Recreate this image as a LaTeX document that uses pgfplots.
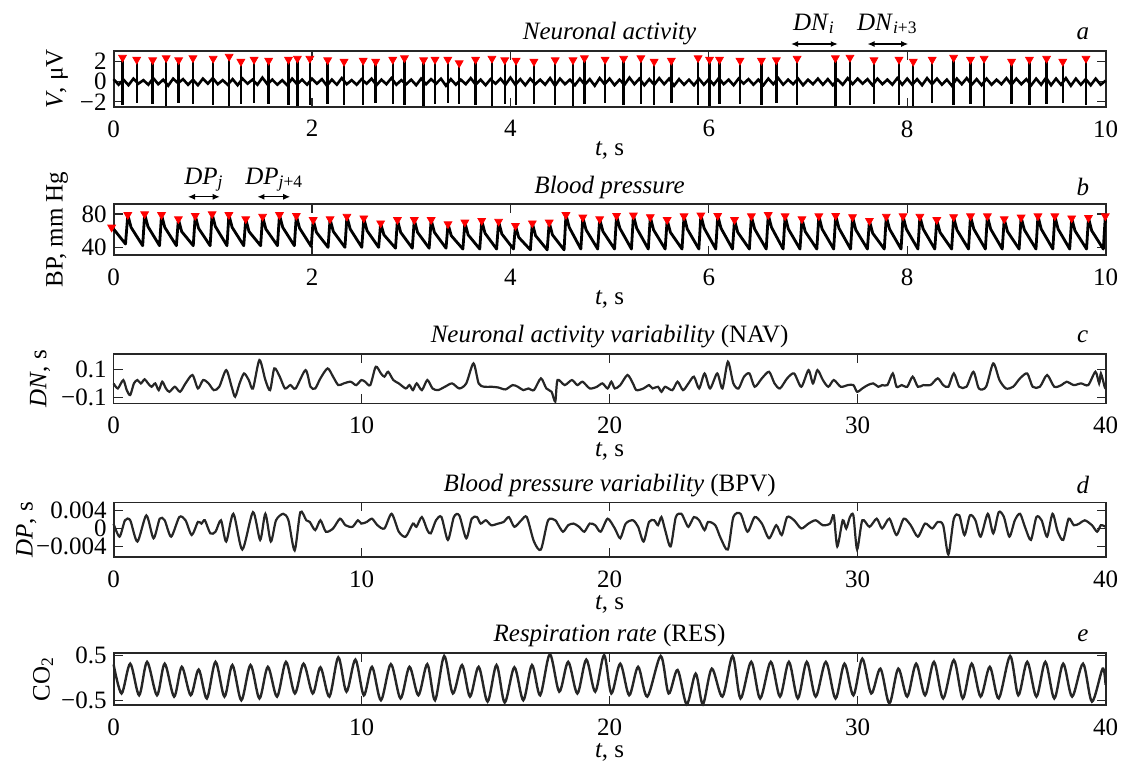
\documentclass[border=0pt]{standalone}
\usepackage{fontspec}
\setmainfont{Liberation Serif}
\usepackage{pgfplots}
\pgfplotsset{compat=1.18}
\usepackage{pgfplotstable}
\usetikzlibrary{arrows.meta}

\newcommand\fs{\fontsize{12.5}{14.5}\selectfont}

% spike times (s), upward and downward amplitudes (uV)
\pgfplotstableread{
t up dn
0.090 2.4 -2.3
0.233 2.2 -2.1
0.394 2.15 -2.2
0.530 2.35 -2.4
0.656 2.15 -2.1
0.800 2.35 -2.2
1.004 2.3 -2.3
1.165 2.5 -2.4
1.283 2.0 -2.2
1.416 2.2 -2.1
1.563 2.1 -2.2
1.763 2.2 -2.3
1.853 2.3 -2.4
1.978 2.3 -2.3
2.158 2.15 -2.2
2.323 2.0 -2.3
2.516 2.1 -2.3
2.642 2.0 -2.1
2.814 2.2 -2.2
2.932 2.35 -2.3
3.125 2.15 -2.4
3.240 2.2 -2.2
3.369 2.2 -2.1
3.484 1.85 -2.2
3.649 2.2 -2.3
3.814 2.3 -2.4
3.943 2.15 -2.2
4.057 2.1 -2.3
4.237 2.0 -2.2
4.452 2.15 -2.3
4.631 2.15 -2.4
4.746 2.35 -2.2
4.955 2.2 -2.1
5.142 2.3 -2.3
5.315 2.35 -2.2
5.449 2.0 -2.3
5.622 2.1 -2.1
5.892 2.35 -2.3
6.007 2.2 -2.4
6.108 2.2 -2.2
6.314 2.1 -2.2
6.530 2.1 -2.3
6.681 2.15 -2.1
6.890 2.3 -2.3
7.276 2.35 -2.4
7.423 2.4 -2.3
7.665 2.15 -2.2
7.917 2.2 -2.3
8.061 2.0 -2.4
8.252 2.2 -2.1
8.468 2.4 -2.3
8.638 2.2 -2.2
8.775 2.3 -2.4
9.052 2.0 -2.2
9.232 2.2 -2.3
9.405 2.3 -2.2
9.568 2.0 -2.1
9.802 2.3 -2.3
}\spikes

\tikzset{arr/.style={{Latex[length=3.5pt,width=3pt]}-{Latex[length=3.5pt,width=3pt]}, line width=0.6pt}}

\pgfplotsset{
  panel/.style={
    scale only axis, width=496pt, clip=false,
    axis line style={line width=0.9pt, black!85},
    every tick/.style={black!85, line width=0.6pt},
    major tick length=4.5pt,
    tick align=inside,
    tick label style={font=\fs},
    label style={font=\fs},
    title style={font=\fs, at={(axis description cs:0.5,1)}, anchor=center, yshift=2.5pt},
    /pgf/number format/assume math mode=true,
    xticklabel style={inner ysep=0.5pt, yshift=-6.1pt},
    yticklabel style={inner ysep=0pt},
    xlabel style={at={(axis description cs:0.5,0)}, anchor=center, yshift=-22pt, inner ysep=0.5pt},
    xlabel={\textit{t}, s},
    ylabel style={anchor=center},
  },
  lowlabel/.style={xlabel style={yshift=-1.8pt}},
}

\begin{document}
\begin{tikzpicture}
\path[use as bounding box] (0,0) rectangle (561.5pt,-383.5pt);

% ---------- a: neuronal activity
\begin{axis}[panel, at={(56.8pt,-25.5pt)}, anchor=north west, height=27.9pt,
  xmin=0, xmax=10, ymin=-2.5, ymax=3.05,
  xtick={0,2,4,6,8,10}, ytick={-2,0,2}, yticklabels={−2,0,2},
  ylabel={\textit{V}, μV}, ylabel style={at={(axis description cs:-0.057,0.5)}},
  title={\textit{Neuronal activity}}]
\addplot[black, line width=1.3pt] coordinates {
(0.00,0.25)(0.05,-0.3)(0.10,0.2)(0.15,-0.35)(0.20,0.3)(0.25,-0.2)(0.30,0.15)(0.35,-0.3)(0.40,0.35)(0.45,-0.25)(0.50,0.2)(0.55,-0.4)(0.60,0.3)(0.65,-0.15)(0.70,0.25)(0.75,-0.3)(0.80,0.2)(0.85,-0.35)(0.90,0.3)(0.95,-0.2)
(1.00,0.35)(1.05,-0.25)(1.10,0.15)(1.15,-0.3)(1.20,0.25)(1.25,-0.35)(1.30,0.3)(1.35,-0.2)(1.40,0.2)(1.45,-0.3)(1.50,0.4)(1.55,-0.25)(1.60,0.2)(1.65,-0.3)(1.70,0.15)(1.75,-0.35)(1.80,0.3)(1.85,-0.25)(1.90,0.2)(1.95,-0.3)
(2.00,0.3)(2.05,-0.2)(2.10,0.25)(2.15,-0.4)(2.20,0.2)(2.25,-0.3)(2.30,0.35)(2.35,-0.25)(2.40,0.15)(2.45,-0.3)(2.50,0.25)(2.55,-0.2)(2.60,0.3)(2.65,-0.35)(2.70,0.2)(2.75,-0.25)(2.80,0.35)(2.85,-0.3)(2.90,0.15)(2.95,-0.25)
(3.00,0.2)(3.05,-0.35)(3.10,0.3)(3.15,-0.25)(3.20,0.25)(3.25,-0.2)(3.30,0.3)(3.35,-0.4)(3.40,0.25)(3.45,-0.3)(3.50,0.2)(3.55,-0.25)(3.60,0.35)(3.65,-0.3)(3.70,0.2)(3.75,-0.35)(3.80,0.25)(3.85,-0.2)(3.90,0.3)(3.95,-0.3)
(4.00,0.4)(4.05,-0.3)(4.10,0.25)(4.15,-0.35)(4.20,0.3)(4.25,-0.25)(4.30,0.2)(4.35,-0.3)(4.40,0.35)(4.45,-0.4)(4.50,0.3)(4.55,-0.25)(4.60,0.2)(4.65,-0.35)(4.70,0.3)(4.75,-0.3)(4.80,0.25)(4.85,-0.4)(4.90,0.35)(4.95,-0.25)
(5.00,0.3)(5.05,-0.35)(5.10,0.2)(5.15,-0.3)(5.20,0.4)(5.25,-0.25)(5.30,0.3)(5.35,-0.35)(5.40,0.25)(5.45,-0.3)(5.50,0.35)(5.55,-0.25)(5.60,0.3)(5.65,-0.4)(5.70,0.25)(5.75,-0.3)(5.80,0.2)(5.85,-0.35)(5.90,0.3)(5.95,-0.3)
(6.00,0.25)(6.05,-0.3)(6.10,0.35)(6.15,-0.25)(6.20,0.2)(6.25,-0.35)(6.30,0.3)(6.35,-0.2)(6.40,0.25)(6.45,-0.3)(6.50,0.2)(6.55,-0.35)(6.60,0.3)(6.65,-0.25)(6.70,0.35)(6.75,-0.3)(6.80,0.2)(6.85,-0.25)(6.90,0.3)(6.95,-0.35)
(7.00,0.2)(7.05,-0.25)(7.10,0.3)(7.15,-0.3)(7.20,0.25)(7.25,-0.35)(7.30,0.2)(7.35,-0.3)(7.40,0.35)(7.45,-0.25)(7.50,0.3)(7.55,-0.2)(7.60,0.25)(7.65,-0.35)(7.70,0.3)(7.75,-0.25)(7.80,0.2)(7.85,-0.3)(7.90,0.35)(7.95,-0.3)
(8.00,0.3)(8.05,-0.3)(8.10,0.25)(8.15,-0.35)(8.20,0.35)(8.25,-0.25)(8.30,0.3)(8.35,-0.3)(8.40,0.2)(8.45,-0.4)(8.50,0.3)(8.55,-0.25)(8.60,0.35)(8.65,-0.3)(8.70,0.25)(8.75,-0.35)(8.80,0.3)(8.85,-0.3)(8.90,0.2)(8.95,-0.25)
(9.00,0.35)(9.05,-0.3)(9.10,0.3)(9.15,-0.25)(9.20,0.25)(9.25,-0.35)(9.30,0.3)(9.35,-0.3)(9.40,0.4)(9.45,-0.35)(9.50,0.3)(9.55,-0.3)(9.60,0.35)(9.65,-0.4)(9.70,0.3)(9.75,-0.3)(9.80,0.25)(9.85,-0.35)(9.90,0.3)(9.95,-0.3)(10.00,0.1)
};
\addplot[ycomb, black, line width=1.2pt, no markers] table[x=t, y=up] {\spikes};
\addplot[ycomb, black, line width=1.2pt, no markers] table[x=t, y=dn] {\spikes};
\addplot[only marks, red, mark=triangle*, mark size=2.2pt, mark options={rotate=180}] table[x=t, y=up] {\spikes};
\draw[arr] ([yshift=3.5pt]axis cs:6.83,3.05) -- ([yshift=3.5pt]axis cs:7.30,3.05);
\draw[arr] ([yshift=3.5pt]axis cs:7.60,3.05) -- ([yshift=3.5pt]axis cs:8.01,3.05);
\node[font=\fs, anchor=base] at ([yshift=10.5pt]axis cs:7.06,3.05) {\textit{DN}\textsubscript{\textit{i}}};
\node[font=\fs, anchor=base] at ([yshift=10.5pt]axis cs:7.80,3.05) {\textit{DN}\textsubscript{\textit{i}+3}};
\node[font=\fs] at ([yshift=8.5pt]rel axis cs:0.977,1) {\textit{a}};
\end{axis}

% ---------- b: blood pressure
\begin{axis}[panel, at={(56.8pt,-102pt)}, anchor=north west, height=25.5pt,
  xmin=0, xmax=10, ymin=30.8, ymax=92,
  xtick={0,2,4,6,8,10}, ytick={40,80}, yticklabels={40,80},
  ylabel={BP, mm Hg}, ylabel style={at={(axis description cs:-0.057,0.5)}},
  title={\textit{Blood pressure}}]
\addplot[black, line width=1.4pt, line join=round] coordinates {
(0.000,62)(0.120,44)
(0.143,79)(0.176,64)(0.293,42)(0.313,80)(0.346,65)(0.463,42)(0.483,79)(0.516,64)(0.633,42)
(0.653,74)(0.686,59)(0.803,42)(0.823,78)(0.856,63)(0.973,42)(0.993,80)(1.026,65)(1.143,42)
(1.162,79)(1.195,64)(1.312,42)(1.332,74)(1.365,59)(1.482,42)(1.502,77)(1.535,62)(1.652,42)
(1.672,79)(1.705,64)(1.822,42)(1.842,78)(1.875,63)(1.992,41)(2.012,73)(2.045,58)(2.162,40)
(2.182,74)(2.215,59)(2.332,40)(2.352,77)(2.385,62)(2.502,40)(2.522,75)(2.555,60)(2.672,40)
(2.692,69)(2.725,55)(2.842,39)(2.861,73)(2.894,58)(3.011,39)(3.031,73)(3.064,58)(3.181,39)
(3.201,73)(3.234,58)(3.351,39)(3.371,68)(3.404,54)(3.521,38)(3.541,70)(3.574,55)(3.691,38)
(3.711,72)(3.744,57)(3.861,38)(3.881,71)(3.914,56)(4.031,38)(4.051,66)(4.084,52)(4.201,37)
(4.221,69)(4.254,54)(4.371,37)(4.391,70)(4.424,55)(4.541,37)(4.560,79)(4.593,64)(4.710,38)
(4.730,76)(4.763,61)(4.880,38)(4.900,74)(4.933,59)(5.050,38)(5.070,78)(5.103,63)(5.220,38)
(5.240,78.5)(5.273,63)(5.390,38)(5.410,76.5)(5.443,61)(5.560,38)(5.580,73)(5.613,58)(5.730,38)
(5.750,77.5)(5.783,62)(5.900,38)(5.920,78.5)(5.953,63)(6.070,38)(6.090,78)(6.123,63)(6.239,38)
(6.259,73)(6.292,58)(6.409,38)(6.429,77.5)(6.462,62)(6.579,38)(6.599,79)(6.632,64)(6.749,38)
(6.769,77.5)(6.802,62)(6.919,38)(6.939,74)(6.972,59)(7.089,38)(7.109,77.5)(7.142,62)(7.259,38)
(7.279,78)(7.312,63)(7.429,38)(7.449,76.5)(7.482,61)(7.599,38)(7.619,72)(7.652,57)(7.769,38)
(7.789,77)(7.822,62)(7.938,38)(7.958,77.5)(7.991,62)(8.108,38)(8.128,77)(8.161,62)(8.278,38)
(8.298,73)(8.331,58)(8.448,38)(8.468,76.5)(8.501,61)(8.618,38)(8.638,77.5)(8.671,62)(8.788,38)
(8.808,77.5)(8.841,62)(8.958,38)(8.978,74)(9.011,59)(9.128,38)(9.148,76)(9.181,61)(9.298,38)
(9.318,77.5)(9.351,62)(9.468,38)(9.488,77.5)(9.521,62)(9.638,38)(9.658,75)(9.691,60)(9.808,38)
(9.827,75.5)(9.860,60)(9.977,38)(9.997,77.5)(10.0,70)
};
\addplot[only marks, red, mark=triangle*, mark size=2.2pt, mark options={rotate=180}] coordinates {
(-0.02,64)(0.143,79)(0.313,80)(0.483,79)(0.653,74)(0.823,78)(0.993,80)(1.162,79)(1.332,74)(1.502,77)
(1.672,79)(1.842,78)(2.012,73)(2.182,74)(2.352,77)(2.522,75)(2.692,69)(2.861,73)(3.031,73)(3.201,73)
(3.371,68)(3.541,70)(3.711,72)(3.881,71)(4.051,66)(4.221,69)(4.391,70)(4.560,79)(4.730,76)(4.900,74)
(5.070,78)(5.240,78.5)(5.410,76.5)(5.580,73)(5.750,77.5)(5.920,78.5)(6.090,78)(6.259,73)(6.429,77.5)
(6.599,79)(6.769,77.5)(6.939,74)(7.109,77.5)(7.279,78)(7.449,76.5)(7.619,72)(7.789,77)(7.958,77.5)
(8.128,77)(8.298,73)(8.468,76.5)(8.638,77.5)(8.808,77.5)(8.978,74)(9.148,76)(9.318,77.5)(9.488,77.5)
(9.658,75)(9.827,75.5)(9.997,77.5)
};
\draw[arr] ([yshift=3.6pt]axis cs:0.75,92) -- ([yshift=3.6pt]axis cs:1.07,92);
\draw[arr] ([yshift=3.6pt]axis cs:1.45,92) -- ([yshift=3.6pt]axis cs:1.78,92);
\node[font=\fs, anchor=base] at ([yshift=10pt]axis cs:0.91,92) {\textit{DP}\textsubscript{\textit{j}}};
\node[font=\fs, anchor=base] at ([yshift=10pt]axis cs:1.62,92) {\textit{DP}\textsubscript{\textit{j}+4}};
\node[font=\fs] at ([yshift=8.5pt]rel axis cs:0.977,1) {\textit{b}};
\end{axis}

% ---------- c: NAV
\begin{axis}[panel, lowlabel, at={(56.8pt,-177pt)}, anchor=north west, height=24.7pt,
  xmin=0, xmax=40, ymin=-0.143, ymax=0.21,
  xtick={0,10,20,30,40}, ytick={-0.1,0.1}, yticklabels={−0.1,0.1},
  ylabel={\textit{DN}, s}, ylabel style={at={(axis description cs:-0.074,0.5)}},
  title={\textit{Neuronal activity variability} (NAV)}]
\addplot[black!85, line width=1.1pt, smooth, tension=0.45] coordinates {
(0,0.0)(0.17,-0.036)(0.39,0.024)(0.53,-0.048)(0.67,-0.083)(0.82,0.0)(0.96,0.024)(1.10,0.0)(1.25,0.029)
(1.39,0.0)(1.53,-0.024)(1.68,0.0)(1.82,-0.048)(1.96,0.012)(2.11,-0.036)(2.25,-0.06)(2.47,-0.024)
(2.68,-0.06)(2.90,0.0)(3.18,0.06)(3.40,-0.036)(3.61,0.024)(3.83,0.0)(4.04,-0.048)(4.26,-0.024)
(4.54,0.095)(4.76,-0.024)(4.90,-0.095)(5.08,0.0)(5.26,0.071)(5.45,0.024)(5.62,-0.036)(5.88,0.167)
(6.12,0.024)(6.31,-0.048)(6.48,0.107)(6.70,0.048)(6.91,-0.036)(7.13,-0.012)(7.34,-0.036)(7.74,0.095)
(7.94,-0.024)(8.13,-0.036)(8.34,0.036)(8.63,0.107)(8.85,0.048)(9.06,-0.012)(9.28,0.0)(9.56,0.012)
(9.78,-0.012)(9.99,0.024)(10.14,0.012)(10.35,-0.012)(10.57,0.119)(10.78,0.071)(10.92,0.048)
(11.07,0.083)(11.28,0.024)(11.50,0.0)(11.78,-0.036)(11.93,-0.012)(12.07,-0.048)(12.22,0.0)
(12.43,-0.048)(12.65,0.024)(12.86,-0.036)(13.08,-0.048)(13.36,-0.024)(13.65,0.0)(13.94,-0.036)
(14.22,0.0)(14.51,0.143)(14.72,0.0)(14.94,-0.024)(15.23,-0.024)(15.51,-0.029)(15.80,-0.043)
(16.09,-0.012)(16.30,-0.024)(16.52,-0.048)(16.73,-0.036)(16.95,-0.048)(17.23,0.036)(17.45,-0.036)
(17.66,-0.06)(17.81,-0.13)(17.90,0.024)(18.19,-0.012)(18.48,0.024)(18.70,-0.012)(18.91,0.012)
(19.20,-0.036)(19.49,-0.024)(19.71,0.0)(19.92,-0.036)(20.07,0.012)(20.21,-0.036)(20.43,-0.012)
(20.72,0.06)(20.94,0.0)(21.08,-0.048)(21.37,-0.036)(21.59,-0.012)(21.73,-0.036)(21.95,-0.024)
(22.09,-0.06)(22.24,-0.024)(22.53,-0.048)(22.74,0.012)(22.96,-0.048)(23.18,0.0)(23.40,0.048)
(23.61,-0.036)(23.83,0.071)(24.05,-0.036)(24.34,0.071)(24.55,-0.036)(24.77,0.155)(24.99,0.0)
(25.20,-0.036)(25.42,0.048)(25.64,0.071)(25.85,-0.024)(26.14,0.036)(26.43,0.083)(26.65,0.0)
(26.87,-0.036)(27.16,0.036)(27.44,0.071)(27.73,-0.024)(28.02,0.095)(28.20,0.0)(28.38,0.095)
(28.60,0.024)(28.82,-0.024)(29.04,0.024)(29.32,-0.024)(29.61,-0.012)(29.83,-0.012)(29.98,-0.06)
(30.19,-0.036)(30.41,-0.012)(30.63,0.0)(30.84,-0.024)(30.99,-0.012)(31.20,-0.012)(31.42,0.071)
(31.57,-0.024)(31.78,-0.012)(32.00,-0.024)(32.22,0.048)(32.43,-0.024)(32.65,-0.012)(32.94,-0.012)
(33.23,0.036)(33.45,-0.012)(33.66,-0.024)(33.88,0.071)(34.10,-0.024)(34.39,-0.024)(34.67,0.083)
(34.89,-0.036)(35.18,-0.024)(35.47,0.143)(35.72,0.024)(35.98,-0.036)(36.27,-0.024)(36.55,0.036)
(36.84,0.071)(37.06,-0.024)(37.35,-0.024)(37.64,0.06)(37.93,-0.024)(38.22,-0.012)(38.43,0.012)
(38.72,-0.012)(39.01,0.0)(39.30,-0.012)(39.59,0.083)(39.74,0.0)(39.81,0.071)(39.96,-0.024)(40,-0.036)
};
\node[font=\fs] at ([yshift=8.5pt]rel axis cs:0.977,1) {\textit{c}};
\end{axis}

% ---------- d: BPV (values in units of 0.001 s)
\begin{axis}[panel, lowlabel, at={(56.8pt,-251.2pt)}, anchor=north west, height=27.2pt,
  xmin=0, xmax=40, ymin=-6.2, ymax=5.7,
  xtick={0,10,20,30,40}, ytick={-4,0,4}, yticklabels={−0.004,0,0.004},
  ylabel={\textit{DP}, s}, ylabel style={at={(axis description cs:-0.088,0.5)}},
  title={\textit{Blood pressure variability} (BPV)}]
\addplot[black!85, line width=1.1pt, smooth, tension=0.45] coordinates {
(0,1.0)(0.24,-1.79)(0.46,1.79)(0.67,1.79)(0.96,-2.86)(1.32,2.86)(1.61,-2.14)(1.86,2.14)(2.06,1.79)
(2.32,-1.79)(2.65,2.5)(2.90,1.79)(3.15,-1.43)(3.40,1.43)(3.54,1.07)(3.68,1.79)(3.90,-1.07)(4.11,-0.71)
(4.33,1.79)(4.54,-2.86)(4.83,3.21)(5.19,-4.6)(5.62,3.57)(5.91,-2.5)(6.12,3.21)(6.34,-2.86)(6.55,1.79)
(6.84,3.21)(7.05,1.79)(7.30,-4.8)(7.53,3.57)(7.77,1.79)(7.91,1.43)(8.13,-0.36)(8.34,1.79)(8.56,-0.71)
(8.85,0)(9.13,2.14)(9.35,0.71)(9.63,0.36)(9.85,1.79)(9.99,1.07)(10.21,1.43)(10.42,2.14)(10.64,0.71)
(10.92,0)(11.21,3.21)(11.50,-0.71)(11.78,-1.79)(12.07,1.07)(12.21,0.36)(12.43,2.5)(12.65,-0.36)
(12.79,-1.07)(13.0,1.79)(13.22,2.5)(13.48,-2.5)(13.72,2.5)(13.94,2.86)(14.22,-2.14)(14.44,2.14)
(14.65,2.5)(14.80,1.07)(15.01,1.79)(15.23,0.71)(15.51,1.07)(15.73,1.43)(15.94,2.5)(16.16,0.36)
(16.44,1.79)(16.66,2.5)(16.95,-2.86)(17.23,-4.6)(17.52,1.79)(17.81,1.79)
(17.90,1.07)(18.12,-0.71)(18.33,0.71)(18.55,1.07)(18.77,0.36)(18.98,-0.71)(19.20,1.07)(19.42,0.71)
(19.64,-0.71)(19.92,2.14)(20.21,0)(20.43,-2.14)(20.65,1.07)(20.94,1.79)(21.15,0.36)(21.37,-2.86)
(21.59,1.43)(21.80,1.79)(21.95,0.71)(22.09,2.5)(22.24,-0.36)(22.46,-3.93)(22.67,2.5)(22.89,3.21)
(23.03,1.79)(23.18,0.36)(23.40,2.5)(23.61,1.79)(23.83,-0.36)(23.97,1.43)(24.26,0.71)(24.48,-2.14)
(24.77,-4.6)(24.99,2.5)(25.28,3.21)(25.56,-0.71)(25.85,2.5)(26.14,1.07)(26.43,-2.14)(26.72,0.71)
(26.94,-1.43)(27.16,2.5)(27.44,1.79)(27.73,0)(28.02,1.07)(28.31,1.79)(28.60,0.71)(28.89,1.07)
(29.04,2.86)(29.18,-3.93)(29.40,1.79)(29.54,0)(29.69,2.5)(29.83,2.86)(29.98,-4.6)(30.19,1.79)
(30.48,0.36)(30.77,2.14)(30.99,0)(31.28,2.14)(31.57,-1.43)(31.86,2.14)(32.14,0.71)(32.43,-1.79)
(32.72,1.07)(33.01,0)(33.23,1.43)(33.45,0.71)(33.66,-5.7)(33.88,2.14)(34.10,2.86)(34.31,-1.43)
(34.53,2.86)(34.75,1.79)(34.96,-1.79)(35.25,3.21)(35.47,-1.07)(35.69,3.57)(35.90,2.5)(36.12,-1.79)
(36.34,1.79)(36.55,3.21)(36.77,0)(36.99,-2.5)(37.21,2.5)(37.42,1.79)(37.64,-1.79)(37.86,3.21)
(38.07,-0.71)(38.29,-2.5)(38.51,2.14)(38.72,0.71)(38.94,1.07)(39.16,1.79)(39.45,0.71)(39.66,-0.71)
(39.81,0.71)(40,0.36)
};
\node[font=\fs] at ([yshift=8.5pt]rel axis cs:0.977,1) {\textit{d}};
\end{axis}

% ---------- e: respiration
\begin{axis}[panel, lowlabel, at={(56.8pt,-326.4pt)}, anchor=north west, height=26.2pt,
  xmin=0, xmax=40, ymin=-0.6, ymax=0.56,
  xtick={0,10,20,30,40}, ytick={-0.5,0.5}, yticklabels={−0.5,0.5},
  ylabel={CO\textsubscript{2}}, ylabel style={at={(axis description cs:-0.071,0.5)}},
  title={\textit{Respiration rate} (RES)}]
\addplot[black!85, line width=1.2pt, smooth, tension=0.5] coordinates {
(0,0.3)(0.32,-0.34)(0.67,0.32)(1.03,-0.38)(1.35,0.36)(1.75,-0.38)(2.06,0.32)(2.44,-0.41)(2.75,0.25)
(3.11,-0.38)(3.43,0.19)(3.76,-0.45)(4.11,0.36)(4.47,-0.41)(4.79,0.29)(5.15,-0.49)(5.52,0.29)(5.88,-0.45)
(6.22,0.25)(6.59,-0.41)(6.95,0.36)(7.31,-0.34)(7.66,0.32)(8.03,-0.34)(8.34,0.24)(8.70,-0.41)(9.06,0.46)
(9.39,-0.30)(9.75,0.41)(10.09,-0.38)(10.42,0.25)(10.78,-0.49)(11.18,0.31)(11.57,-0.45)(11.93,0.25)
(12.29,-0.38)(12.65,0.31)(12.96,-0.49)(13.33,0.49)(13.68,-0.34)(14.05,0.29)(14.37,-0.41)(14.72,0.25)
(15.08,-0.52)(15.44,0.29)(15.77,-0.54)(16.16,0.24)(16.52,-0.49)(16.87,0.29)(17.20,-0.38)(17.59,0.53)
(17.97,-0.30)(18.33,0.36)(18.70,-0.34)(19.06,0.41)(19.42,-0.30)(19.78,0.51)(20.07,-0.34)(20.43,0.32)
(20.79,-0.38)(21.15,0.25)(21.52,-0.41)(22.06,0.49)(22.38,-0.34)(22.74,0.18)(23.11,-0.58)(23.47,0.10)
(23.76,-0.58)(24.12,0.21)(24.55,-0.41)(24.96,0.49)(25.28,-0.45)(25.71,0.36)(26.07,-0.45)(26.50,0.36)
(26.87,-0.41)(27.23,0.36)(27.59,-0.45)(27.95,0.36)(28.31,-0.41)(28.72,0.36)(29.11,-0.45)(29.47,0.32)
(29.83,-0.38)(30.19,0.43)(30.55,-0.34)(30.92,0.21)(31.28,-0.56)(31.64,0.21)(32.00,-0.41)(32.36,0.32)
(32.72,-0.38)(33.08,0.36)(33.45,-0.45)(33.88,0.40)(34.24,-0.45)(34.60,0.32)(34.96,-0.41)(35.33,0.25)
(35.69,-0.45)(36.15,0.49)(36.48,-0.38)(36.84,0.36)(37.21,-0.41)(37.57,0.36)(37.93,-0.45)(38.29,0.32)
(38.65,-0.41)(39.09,0.32)(39.45,-0.52)(39.88,0.21)(40,-0.15)
};
\node[font=\fs] at ([yshift=8.5pt]rel axis cs:0.977,1) {\textit{e}};
\end{axis}
\end{tikzpicture}
\end{document}
